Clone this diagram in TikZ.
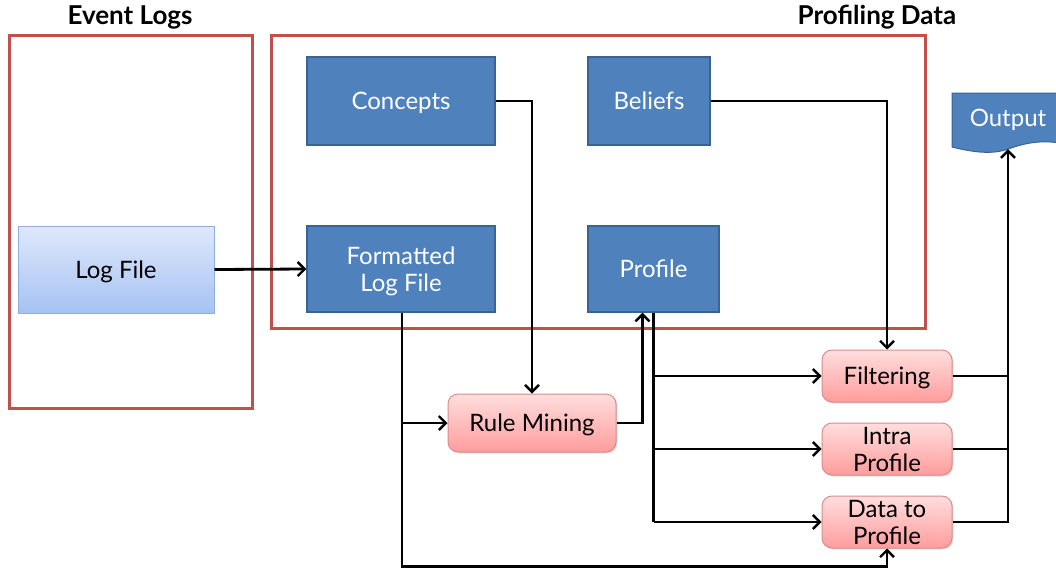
\documentclass[tikz,border=0pt]{standalone}
\usepackage{fontspec}
\setmainfont{Lato}
\usetikzlibrary{arrows.meta,calc,shadows}
\definecolor{framered}{HTML}{C0504D}
\definecolor{boxblue}{HTML}{4F81BD}
\definecolor{boxblueline}{HTML}{3A6391}
\definecolor{logtop}{HTML}{DEE8FB}
\definecolor{logbot}{HTML}{A6C2F3}
\definecolor{logline}{HTML}{8FAEDC}
\definecolor{pinktop}{HTML}{FFDEDE}
\definecolor{pinkbot}{HTML}{FF9C9C}
\definecolor{pinkline}{HTML}{D98C8A}
\tikzset{
  txt/.style={font=\fontsize{24}{27}\selectfont, align=center, text depth=0pt},
  frame/.style={draw=framered, line width=3pt, inner sep=0pt},
  title/.style={font=\fontsize{26}{30}\selectfont\bfseries},
  bluebox/.style={txt, draw=boxblueline, line width=1.3pt, fill=boxblue, text=white, inner sep=0pt},
  logbox/.style={txt, draw=logline, line width=1pt, top color=logtop, bottom color=logbot, inner sep=0pt},
  pinkbox/.style={txt, draw=pinkline, line width=1pt, rounded corners=10pt, top color=pinktop, bottom color=pinkbot, inner sep=0pt,
    drop shadow={shadow xshift=1.5pt, shadow yshift=-1.5pt, opacity=0.25}},
  wire/.style={line width=2.8pt, black},
  arr/.style={wire, -{Straight Barb[length=7pt, width=14pt, line width=2.4pt]}},
}
\begin{document}
\begin{tikzpicture}[x=1pt, y=-1pt]
\useasboundingbox (0,0) rectangle (1056,571);
\clip (0,0) rectangle (1056,571);

% group frames and their headings
\node[frame, minimum width=243pt, minimum height=373pt] (evframe) at (130.5,221.5) {};
\node[frame, minimum width=654pt, minimum height=293pt] (pdframe) at (598,181.5) {};
\node[title] (evtitle) at (130,17) {Event Logs};
\node[title] (pdtitle) at (877,17) {Profiling Data};

% data boxes
\node[logbox, minimum width=196pt, minimum height=87pt] (logfile) at (116,269.5) {Log File};
\node[bluebox, minimum width=188pt, minimum height=88pt] (concepts) at (401,101) {Concepts};
\node[bluebox, minimum width=122pt, minimum height=88pt] (beliefs) at (649,101) {Beliefs};
\node[bluebox, minimum width=188pt, minimum height=86pt] (formatted) at (401,269) {Formatted\\Log File};
\node[bluebox, minimum width=131pt, minimum height=86pt] (profile) at (653.5,269) {Profile};

% output document shape
\fill[boxblue, draw=boxblueline, line width=1pt]
  (952,93) -- (1060,93) -- (1060,143)
  .. controls (1040,140) and (1025,143) .. (1008,149)
  .. controls (992,155) and (972,152) .. (952,147) -- cycle;
\node[txt, text=white, minimum height=62pt, inner sep=0pt] (output) at (1008,118) {Output};

% processing steps
\node[pinkbox, minimum width=168pt, minimum height=58pt] (rule) at (532,423) {Rule Mining};
\node[pinkbox, minimum width=130pt, minimum height=52pt] (filter) at (887,376) {Filtering};
\node[pinkbox, minimum width=130pt, minimum height=52pt] (intra) at (887,449) {Intra\\Profile};
\node[pinkbox, minimum width=130pt, minimum height=52pt] (datap) at (887,522) {Data to\\Profile};

% connectors
\draw[arr] (logfile.east) -- (formatted.west);
\draw[arr] (concepts.east) -| (rule.north);
\draw[arr] (beliefs.east) -| (filter.north);
\draw[arr] ([xshift=1pt]formatted.south) -- ++(0,254) -| (datap.south);
\draw[arr] ([xshift=1pt]formatted.south |- rule.west) -- (rule.west);
\draw[arr] (rule.east) -| ([xshift=-11pt]profile.south);
\draw[wire] (profile.south) -- (profile.south |- datap.west);
\draw[arr] (profile.south |- filter.west) -- (filter.west);
\draw[arr] (profile.south |- intra.west) -- (intra.west);
\draw[arr] (profile.south |- datap.west) -- (datap.west);
\draw[wire] (filter.east) -- (filter.east -| output.south);
\draw[wire] (intra.east) -- (intra.east -| output.south);
\draw[arr] (datap.east) -| (output.south);
\end{tikzpicture}
\end{document}
